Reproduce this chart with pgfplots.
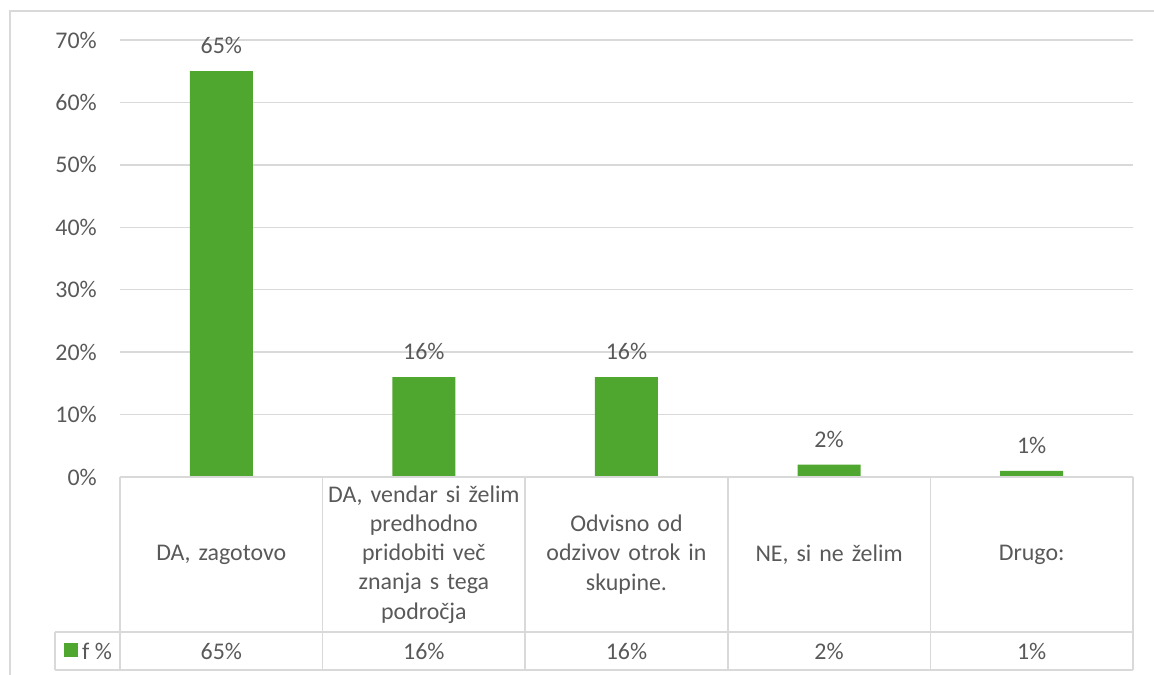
\documentclass[border=0pt]{standalone}
\usepackage{pgfplots}
\pgfplotsset{compat=1.18}
\usepackage{pgfplotstable}
\usepackage{fontspec}
\setmainfont{Carlito}
\definecolor{bargreen}{RGB}{80,167,48}
\definecolor{txt}{RGB}{89,89,89}
\definecolor{gridc}{RGB}{217,217,217}
\pgfplotstableread{
x f
0 65
1 16
2 16
3 2
4 1
}\data
\begin{document}
\begin{tikzpicture}[x=1bp,y=1bp,font=\fontsize{24}{29.3}\selectfont,text=txt]
\useasboundingbox (0,0) rectangle (1154,675);
\draw[gridc, line width=1.5bp] (10,0) -- (10,664) -- (1154,664);
\begin{axis}[at={(120bp,198bp)}, anchor=south west, scale only axis,
  width=1013bp, height=437bp,
  xmin=-0.5, xmax=4.5, ymin=0, ymax=70, clip=false,
  axis line style={draw=none}, tick style={draw=none},
  ytick={0,10,...,70},
  yticklabel={\pgfmathprintnumber{\tick}\%},
  ymajorgrids, major grid style={gridc, line width=1.5bp},
  yticklabel style={anchor=east, inner sep=0pt, xshift=-23bp, text=txt, font=\fontsize{24}{29.3}\selectfont},
  xtick={0,...,4},
  xticklabels={{DA, zagotovo},{DA, vendar si želim\\predhodno\\pridobiti več\\znanja s tega\\področja},{Odvisno od\\odzivov otrok in\\skupine.},{NE, si ne želim},{Drugo:}},
  xticklabel style={anchor=center, yshift=-77.5bp, text width=200bp, align=center, inner sep=0pt, text=txt, font=\fontsize{24}{29.3}\selectfont},
  /pgf/number format/assume math mode=true,
]
\addplot[ybar, bar width=63bp, fill=bargreen, draw=none,
  nodes near coords={\pgfmathprintnumber{\pgfplotspointmeta}\%},
  nodes near coords style={anchor=base, inner sep=0pt, yshift=17.5bp, text=txt, font=\fontsize{24}{29.3}\selectfont}]
  table[x=x,y=f] {\data};
\addplot[draw=none, mark=none, point meta=\thisrow{f},
  nodes near coords={\pgfmathprintnumber{\pgfplotspointmeta}\%},
  nodes near coords style={anchor=center, inner sep=0pt, yshift=-174bp, text=txt, font=\fontsize{24}{29.3}\selectfont}]
  table[x=x,y expr=0] {\data};
\end{axis}
\begin{scope}[gridc, line width=1.5bp]
\draw (120,198) -- (1133,198);
\draw (55,43) -- (1133,43);
\draw (55,5) -- (1133,5);
\draw (55,43) -- (55,5);
\foreach \xx in {120,322.6,525.2,727.8,930.4,1133} {\draw (\xx,198) -- (\xx,5);}
\end{scope}
\fill[bargreen] (64,18.3) rectangle (78,32.3);
\node[anchor=west, inner sep=0pt] at (82,24) {f \%};
\end{tikzpicture}
\end{document}
